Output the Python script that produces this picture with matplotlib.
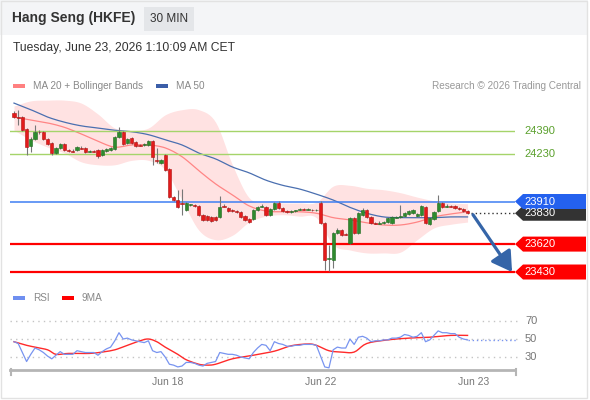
import numpy as np
import matplotlib
matplotlib.use("Agg")
import matplotlib.pyplot as plt
from matplotlib.patches import Rectangle, Polygon, FancyArrowPatch
from matplotlib.lines import Line2D
from matplotlib import transforms

plt.rcParams['font.family'] = ['Liberation Sans', 'DejaVu Sans']

# ---- data (30 min candles) ----
opens = [24515, 24485, 24485, 24405, 24290, 24335, 24385, 24385, 24335, 24310,
         24240, 24275, 24300, 24260, 24255, 24260, 24275, 24275, 24250, 24255,
         24260, 24225, 24255, 24260, 24265, 24350, 24385, 24310, 24340, 24315,
         24295, 24295, 24295, 24320, 24190, 24170, 24225, 24130, 23940, 23920,
         23900, 23850, 23885, 23885, 23880, 23820, 23810, 23805, 23805, 23805,
         23880, 23865, 23850, 23845, 23840, 23810, 23790, 23790, 23850, 23875,
         23870, 23820, 23860, 23900, 23865, 23845, 23840, 23845, 23855, 23860,
         23855, 23855, 23850, 23900, 23765, 23520, 23510, 23695, 23715, 23690,
         23625, 23800, 23695, 23820, 23850, 23805, 23765, 23760, 23765, 23770,
         23765, 23800, 23805, 23810, 23825, 23830, 23810, 23820, 23870, 23755,
         23790, 23845, 23900, 23875, 23880, 23880, 23865, 23860, 23845]
closes = [24485, 24480, 24395, 24280, 24335, 24385, 24380, 24335, 24300, 24240,
          24275, 24300, 24260, 24255, 24250, 24280, 24270, 24245, 24255, 24250,
          24220, 24260, 24265, 24275, 24350, 24385, 24300, 24335, 24310, 24290,
          24290, 24300, 24320, 24215, 24185, 24190, 24125, 23940, 23920, 23870,
          23895, 23900, 23890, 23880, 23820, 23785, 23785, 23775, 23785, 23870,
          23875, 23845, 23845, 23840, 23805, 23785, 23770, 23850, 23870, 23880,
          23820, 23860, 23900, 23865, 23845, 23840, 23845, 23850, 23860, 23855,
          23860, 23850, 23855, 23765, 23510, 23525, 23695, 23715, 23680, 23685,
          23800, 23695, 23830, 23850, 23805, 23765, 23760, 23765, 23770, 23800,
          23805, 23805, 23810, 23830, 23845, 23850, 23825, 23880, 23765, 23800,
          23840, 23900, 23870, 23880, 23875, 23865, 23860, 23845, 23830]
highs = [24525, 24535, 24490, 24410, 24350, 24430, 24395, 24390, 24340, 24315,
         24280, 24310, 24310, 24270, 24265, 24290, 24285, 24280, 24260, 24260,
         24265, 24265, 24275, 24280, 24355, 24415, 24390, 24340, 24350, 24320,
         24300, 24305, 24330, 24330, 24275, 24200, 24235, 24140, 23945, 23990,
         23995, 23905, 23895, 23895, 23885, 23825, 23820, 23810, 23810, 23945,
         23890, 23870, 23860, 23850, 23845, 23820, 23800, 23860, 23880, 23890,
         23880, 23865, 23905, 23915, 23870, 23850, 23850, 23855, 23865, 23865,
         23865, 23860, 23860, 23915, 23770, 23615, 23700, 23730, 23725, 23695,
         23805, 23805, 23840, 23865, 23860, 23810, 23770, 23775, 23775, 23805,
         23810, 23810, 23885, 23840, 23850, 23860, 23830, 23885, 23880, 23805,
         23845, 23955, 23905, 23890, 23885, 23885, 23870, 23865, 23850]
lows = [24480, 24430, 24390, 24225, 24245, 24330, 24370, 24330, 24295, 24225,
        24235, 24265, 24255, 24250, 24245, 24255, 24265, 24240, 24245, 24245,
        24205, 24220, 24245, 24255, 24260, 24340, 24295, 24300, 24300, 24280,
        24285, 24290, 24290, 24160, 24170, 24165, 24120, 23935, 23915, 23865,
        23820, 23845, 23880, 23875, 23810, 23775, 23775, 23770, 23775, 23800,
        23870, 23840, 23840, 23835, 23800, 23775, 23765, 23785, 23845, 23870,
        23810, 23810, 23850, 23860, 23840, 23835, 23835, 23840, 23850, 23850,
        23850, 23845, 23845, 23755, 23445, 23435, 23455, 23690, 23675, 23680,
        23620, 23690, 23690, 23810, 23800, 23755, 23755, 23755, 23760, 23765,
        23755, 23795, 23800, 23805, 23820, 23825, 23805, 23810, 23755, 23750,
        23785, 23840, 23865, 23870, 23870, 23860, 23850, 23840, 23825]

# moving averages / bands, read every 4th candle
band_idx = [0, 4, 8, 12, 16, 20, 24, 28, 32, 36, 40, 44, 48, 52,
            56, 60, 64, 68, 72, 76, 80, 84, 88, 92, 96, 100, 104, 108]
ma50 = [24580, 24535, 24485, 24450, 24425, 24410, 24395, 24385, 24365, 24330,
        24295, 24240, 24200, 24145, 24105, 24055, 24020, 23995, 23960, 23920,
        23870, 23830, 23805, 23800, 23800, 23800, 23805, 23805]
ma20 = [24485, 24465, 24445, 24415, 24370, 24320, 24280, 24295, 24295, 24275,
        24215, 24120, 24030, 23955, 23880, 23845, 23840, 23840, 23830, 23800,
        23785, 23765, 23750, 23750, 23770, 23805, 23825, 23840]
bb_upper = [24560, 24595, 24600, 24600, 24580, 24505, 24410, 24395, 24410, 24500,
            24535, 24535, 24450, 24160, 23935, 23905, 23900, 23900, 23905, 24015,
            24020, 24000, 23990, 23970, 23940, 23915, 23900, 23895]
bb_lower = [24395, 24330, 24280, 24240, 24180, 24160, 24160, 24190, 24190, 24125,
            23920, 23715, 23650, 23680, 23770, 23810, 23820, 23810, 23800, 23615,
            23580, 23560, 23560, 23565, 23650, 23730, 23755, 23770]

resistances = [24390, 24230]
pivot = 23910
supports = [23620, 23430]

rsi = [47, 45, 35, 25, 33, 40, 38, 35, 31, 28,
       32, 36, 33, 33, 33, 37, 36, 35, 35, 35,
       32, 36, 39, 41, 48, 57, 50, 51, 49, 48,
       47, 46, 48, 37, 35, 36, 30, 22, 21, 19,
       20, 24, 24, 23, 21, 20, 23, 24, 25, 35,
       34, 33, 33, 32, 30, 29, 28, 35, 40, 44,
       43, 37, 47, 45, 44, 42, 42, 43, 43, 44,
       44, 44, 43, 31, 19, 18, 38, 41, 40, 40,
       50, 44, 52, 53, 51, 47, 48, 48, 49, 49,
       51, 51, 52, 55, 54, 52, 53, 57, 47, 49,
       54, 59, 57, 57, 56, 56, 52, 50, 49]
ma9_idx = [0, 3, 5, 8, 10, 13, 18, 21, 24, 27, 30, 32, 34, 36, 39, 41, 44,
           46, 48, 52, 57, 62, 66, 70, 72, 75, 78, 81, 84, 89, 94, 99, 104, 108]
ma9_val = [47, 43, 41, 38, 33, 34, 34, 35.5, 38, 43, 48, 50, 47, 41, 33, 27, 22,
           21, 22, 28, 32, 36.5, 42.5, 44.5, 43, 37, 35.5, 35.5, 45, 49, 51, 52, 54, 54]
rsi_levels = [30, 50, 70]

date_pos = [36.5, 73, 109.5]
date_labels = ["Jun 18", "Jun 22", "Jun 23"]

# ---- layout helpers (pixel -> figure fraction) ----
W, H = 590, 400


def fx(px):
    return px / W


def fy(py):
    return 1 - py / H


def smooth(xs, ys, n=8):
    # catmull-rom path through the read points, for drawing only
    xs = np.asarray(xs, float)
    ys = np.asarray(ys, float)
    px = np.concatenate([[2 * xs[0] - xs[1]], xs, [2 * xs[-1] - xs[-2]]])
    py = np.concatenate([[2 * ys[0] - ys[1]], ys, [2 * ys[-1] - ys[-2]]])
    t = np.linspace(0, 1, n, endpoint=False)
    ox, oy = [], []
    for i in range(1, len(px) - 2):
        for p, out in ((px, ox), (py, oy)):
            p0, p1, p2, p3 = p[i - 1], p[i], p[i + 1], p[i + 2]
            out.extend(0.5 * (2 * p1 + (-p0 + p2) * t + (2 * p0 - 5 * p1 + 4 * p2 - p3) * t ** 2
                              + (-p0 + 3 * p1 - 3 * p2 + p3) * t ** 3))
    ox.append(xs[-1])
    oy.append(ys[-1])
    return np.array(ox), np.array(oy)


fig = plt.figure(figsize=(W / 100, H / 100), dpi=100)
fig.patch.set_facecolor('white')

# header band and frame
fig.patches.append(Rectangle((0, fy(35)), fx(588), 35 / H, transform=fig.transFigure,
                             fc='#f4f5f7', ec='none', zorder=0))
fig.patches.append(Rectangle((fx(1), fy(398)), fx(587) - fx(1), 397 / H, transform=fig.transFigure,
                             fc='none', ec='#e2e2e2', lw=1, zorder=0))
fig.text(fx(12), fy(18), 'Hang Seng (HKFE)', fontsize=10, fontweight='bold', color='#333333', va='center')
fig.patches.append(Rectangle((fx(144), fy(31)), 50 / W, 24 / H, transform=fig.transFigure,
                             fc='#e4e6e9', ec='none', zorder=1))
fig.text(fx(169), fy(19), '30 MIN', fontsize=8.5, color='#333333', ha='center', va='center')
fig.text(fx(13), fy(48), 'Tuesday, June 23, 2026 1:10:09 AM CET', fontsize=8.7, color='#333333', va='center')


def legend_item(x, y, color, label):
    fig.patches.append(Rectangle((fx(x), fy(y + 2)), 12 / W, 4 / H, transform=fig.transFigure,
                                 fc=color, ec='none'))
    fig.text(fx(x + 20), fy(y), label, fontsize=7.2, color='#888888', va='center')


legend_item(13, 86, '#ff8080', 'MA 20 + Bollinger Bands')
legend_item(156, 86, '#3b5ea8', 'MA 50')
fig.text(fx(581), fy(86), 'Research \u00a9 2026 Trading Central', fontsize=7.2, color='#999999',
         ha='right', va='center')
legend_item(13, 298, '#6f8ff0', 'RSI')
legend_item(62, 298, '#ff0000', '9MA')

# ---- price panel ----
ax = fig.add_axes([fx(10), fy(282), 505 / W, 187 / H])
xmin, xmax = -0.95, 119.3
ymin, ymax = 23362, 24635
ax.set_xlim(xmin, xmax)
ax.set_ylim(ymin, ymax)
ax.axis('off')

sx, su = smooth(band_idx, bb_upper)
_, sl = smooth(band_idx, bb_lower)
ax.fill_between(sx, sl, su, color='#ffe2e2', lw=0, zorder=1)
mx, m20 = smooth(band_idx, ma20)
ax.plot(mx, m20, color='#ff8585', lw=0.9, zorder=2)
mx, m50 = smooth(band_idx, ma50)
ax.plot(mx, m50, color='#4a6fb0', lw=0.9, zorder=2)

for lv in resistances:
    ax.axhline(lv, color='#a5d46a', lw=1, zorder=3)
ax.axhline(pivot, color='#3f7ff2', lw=1.1, zorder=3)
for lv in supports:
    ax.axhline(lv, color='#ff0000', lw=1.6, zorder=3)

idx = np.arange(len(closes))
o = np.array(opens)
c = np.array(closes)
up = c >= o
ax.vlines(idx, lows, highs, color='#777777', lw=0.8, zorder=4)
body_lo = np.minimum(o, c)
body_h = np.maximum(np.abs(c - o), 5)
ax.bar(idx[up], body_h[up], bottom=body_lo[up], width=0.75, color='#2e8b2e',
       edgecolor='#1f6a1f', lw=0.4, zorder=5)
ax.bar(idx[~up], body_h[~up], bottom=body_lo[~up], width=0.75, color='#e31b1b',
       edgecolor='#b01010', lw=0.4, zorder=5)

# last price dotted guide
last = closes[-1]
ax.plot([idx[-1] + 0.8, xmax], [last, last], color='#333333', lw=1, ls=(0, (1, 2)), zorder=3)

# projection arrow towards the lower support
arrow = FancyArrowPatch((idx[-1] + 1.3, last - 10), (idx[-1] + 10.6, supports[-1]),
                        arrowstyle='-|>,head_length=1.0,head_width=0.6', mutation_scale=12,
                        color='#3565a8', lw=2.3, zorder=6, shrinkA=0, shrinkB=0)
ax.add_patch(arrow)

# price tags on the right
tr = transforms.blended_transform_factory(fig.transFigure, ax.transData)
half = 7.5 * (ymax - ymin) / 187


def price_tag(price, face, text_color='white', boxed=True):
    if boxed:
        pts = [(fx(515), price), (fx(523), price + half), (fx(586), price + half),
               (fx(586), price - half), (fx(523), price - half)]
        ax.add_patch(Polygon(pts, closed=True, transform=tr, clip_on=False,
                             fc=face, ec='none', zorder=7))
    ax.text(fx(524), price, str(price), transform=tr, fontsize=8, color=text_color,
            va='center', ha='left', clip_on=False, zorder=8)


for lv in resistances:
    price_tag(lv, None, '#5aa02c', boxed=False)
price_tag(last, '#333333')
price_tag(pivot, '#2461ee')
for lv in supports:
    price_tag(lv, '#ff0000')

# ---- RSI panel ----
rax = fig.add_axes([fx(10), fy(370), 505 / W, 60 / H])
rax.set_xlim(xmin, xmax)
rax.set_ylim(15.6, 82.2)
for s in ['top', 'left', 'right']:
    rax.spines[s].set_visible(False)
rax.spines['bottom'].set_color('#b5b5b5')
rax.spines['bottom'].set_linewidth(2)
rax.set_yticks([])
rax.set_xticks(date_pos)
rax.set_xticklabels(date_labels)
rax.tick_params(axis='x', length=0, pad=5, labelsize=7.5, labelcolor='#777777')
rax.patch.set_alpha(0)

rtr = transforms.blended_transform_factory(fig.transFigure, rax.transData)
for lv in rsi_levels:
    rax.plot([xmin, xmax + 0.4], [lv, lv], color='#c4c4c4', lw=1, ls=(0, (1, 3)),
             clip_on=False, zorder=1)
    rax.text(fx(525), lv, str(lv), transform=rtr, fontsize=8, color='#777777',
             va='center', ha='left')

rax.plot(idx, rsi, color='#7894f0', lw=0.9, zorder=3)
rx, rv = smooth(ma9_idx, ma9_val, n=5)
rax.plot(rx, rv, color='#ff2a2a', lw=1, zorder=2)
rax.plot([idx[-1], xmax + 0.4], [rsi[-1], rsi[-1]], color='#7894f0', lw=1, ls=(0, (1, 2)),
         clip_on=False, zorder=3)

for xp in (11, 516):
    fig.lines.append(Line2D([fx(xp), fx(xp)], [fy(369), fy(375)], transform=fig.transFigure,
                            color='#b5b5b5', lw=1.5))

fig.savefig('out.png', dpi=100)
